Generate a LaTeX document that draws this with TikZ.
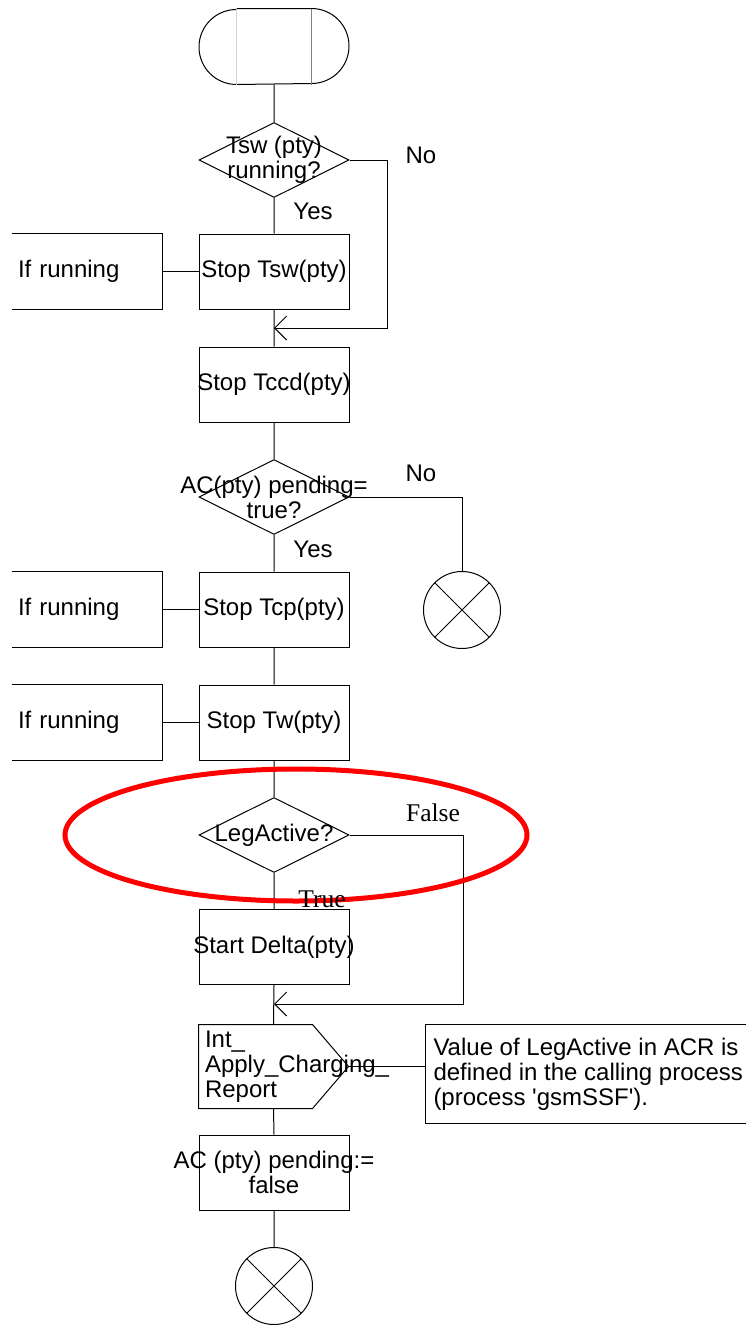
\documentclass[tikz,border=0pt]{standalone}
\usepackage{fontspec}
\setmainfont{Liberation Sans}
\newfontfamily\tmsfont{Liberation Serif}
\usetikzlibrary{shapes.geometric,arrows.meta}

\begin{document}
\begin{tikzpicture}[x=1pt,y=-1pt,line width=1pt,
    font=\fontsize{24}{25}\selectfont,
    task/.style={draw,rectangle,minimum width=150,minimum height=75,inner sep=0},
    dec/.style={draw,diamond,minimum width=150,minimum height=75,inner sep=0},
    txt/.style={align=center,inner sep=0},
    cmt/.style={rectangle,minimum height=75,text width=138,inner xsep=6,inner ysep=0,align=left},
    stopsym/.style={draw,circle,minimum size=77,inner sep=0,
      path picture={\draw (path picture bounding box.north west)--(path picture bounding box.south east)
        (path picture bounding box.north east)--(path picture bounding box.south west);}},
    merge/.style={-{Straight Barb[length=12pt,width=24pt]}},
    lbl/.style={inner sep=0},
    tms/.style={inner sep=0,font=\tmsfont\fontsize{25.5}{26}\selectfont}]
  \useasboundingbox (0,0) rectangle (746,1325);

  % start symbol
  \node[minimum width=74,minimum height=75,inner sep=0] (start) at (274,46.5) {};
  \draw (start.north west) -- (start.north east) arc[start angle=270,end angle=450,radius=37.5]
    -- (start.south west) arc[start angle=90,end angle=270,radius=37.5];
  \draw[gray!35] (start.north west) -- (start.south west);
  \draw[gray] (start.north east) -- (start.south east);

  \node[dec,label={[txt]center:{Tsw (pty)\\running?}}] (d1) at (274,160) {};
  \node[task,label={[txt]center:{Stop Tsw(pty)}}] (b1) at (274,271.5) {};
  \node[cmt] (c1) at (87,271.5) {If running};
  \node[task,label={[txt]center:{Stop Tccd(pty)}}] (b2) at (274,384.5) {};
  \node[dec,label={[txt]center:{AC(pty) pending=\\true?}}] (d2) at (274,497) {};
  \node[task,label={[txt]center:{Stop Tcp(pty)}}] (b3) at (274,609.5) {};
  \node[cmt] (c2) at (87,609.5) {If running};
  \node[stopsym] (s1) at (462,610) {};
  \node[task,label={[txt]center:{Stop Tw(pty)}}] (b4) at (274,722.5) {};
  \node[cmt] (c3) at (87,722.5) {If running};
  \node[dec,label={[txt]center:{LegActive?}}] (d3) at (274,835) {};
  \node[task,label={[txt]center:{Start Delta(pty)}}] (b5) at (274,947) {};
  \node[cmt,minimum height=83,text width=137] (out) at (273.5,1066.5) {Int\_\\Apply\_Charging\_\\Report};
  \node[rectangle,align=left,anchor=west,minimum height=98,minimum width=321,inner xsep=8,inner ysep=0] (note)
    at (425,1074) {Value of LegActive in ACR is\\defined in the calling process\\(process \textquotesingle gsmSSF\textquotesingle).};
  \node[task,label={[txt]center:{AC (pty) pending:=\\false}}] (b6) at (274,1172.5) {};
  \node[stopsym] (s2) at (274,1286) {};

  \coordinate (m1) at (274,328);
  \coordinate (m2) at (274,1004);

  % comment brackets
  \foreach \c in {c1,c2,c3}
    \draw (\c.north west) -- (\c.north east) -- (\c.south east) -- (\c.south west);
  \draw (note.north east) -- (note.north west) -- (note.south west) -- (note.south east);
  \draw (out.north west) -- ([xshift=-36]out.north east) -- (out.east)
    -- ([xshift=-36]out.south east) -- (out.south west) -- cycle;

  % flow lines
  \draw (start.south) -- (d1.north) (d1.south) -- (b1.north) (b1.south) -- (b2.north)
    (b2.south) -- (d2.north) (d2.south) -- (b3.north) (b3.south) -- (b4.north)
    (b4.south) -- (d3.north) (d3.south) -- (b5.north) (b5.south) -- (out.north)
    (out.south) -- (b6.north) (b6.south) -- (s2.north);
  \draw (c1.east) -- (b1.west) (c2.east) -- (b3.west) (c3.east) -- (b4.west);
  \draw (out.east) -- (out.east -| note.west);
  \draw[merge] (d1.east) -- ++(38,0) |- (m1);
  \draw (d2.east) -| (s1.north);
  \draw[merge] (d3.east) -- ++(114,0) |- (m2);

  \node[lbl] (no1) at (421,155) {No};
  \node[lbl] (yes1) at (313,211) {Yes};
  \node[lbl] (no2) at (421,473) {No};
  \node[lbl] (yes2) at (313,549) {Yes};
  \node[tms] (f3) at (433,813) {False};

  \draw[red,line width=5pt] (296,835) ellipse[x radius=231,y radius=66];
  \node[tms] (t3) at (322,899) {True};
\end{tikzpicture}
\end{document}
